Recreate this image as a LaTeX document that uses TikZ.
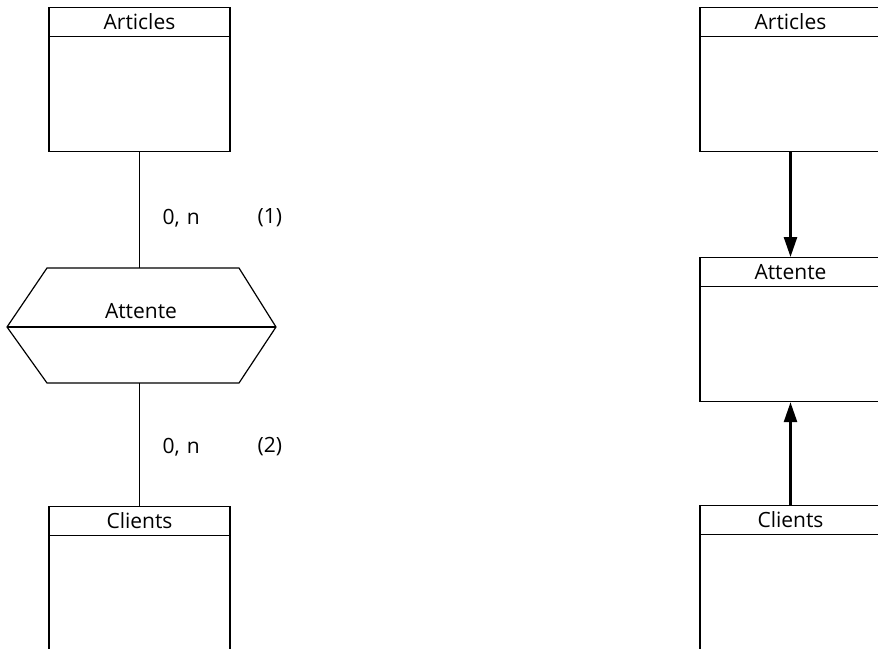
\documentclass[tikz,border=0pt]{standalone}
\usepackage{fontspec}
\setmainfont{Open Sans}
\usetikzlibrary{arrows.meta}
\begin{document}
\begin{tikzpicture}[x=1pt,y=-1pt,
  line width=1.2pt,
  font=\fontsize{21}{23}\selectfont,
  entity/.style={draw,minimum width=181pt,minimum height=#1,inner sep=0pt,anchor=north},
  header/.style={draw,minimum width=181pt,minimum height=29pt,inner sep=0pt,anchor=north},
  card/.style={anchor=west,inner sep=0pt},
  link/.style={line width=1.2pt},
  dep/.style={line width=2.6pt,-{Triangle[length=20pt,width=13pt]}}]
\useasboundingbox (0,0) rectangle (878,648);
\clip (0,0) rectangle (878,648);
% ---- left diagram ----
\node[entity=144pt] (artL) at (139.5,7) {};
\node[header] (artLh) at (artL.north) {Articles};
\draw (7,327) -- (47,268) -- (239,268) -- (276,327) -- (239,383) -- (47,383) -- cycle;
\draw (7,327) -- (276,327);
\node[anchor=base] (attL) at (141,318) {Attente};
\coordinate (hexTop) at (139.5,268);
\coordinate (hexBot) at (139.5,383);
\node[entity=200pt] (cliL) at (139.5,506) {};
\node[header] (cliLh) at (cliL.north) {Clients};
\draw[link] (artL.south) -- (hexTop);
\draw[link] (hexBot) -- (cliL.north);
\node[card] (c1) at (162,218) {0,\hspace{7pt}n};
\node[card] (n1) at (257,218) {(1)};
\node[card] (c2) at (162,447) {0,\hspace{7pt}n};
\node[card] (n2) at (257,447) {(2)};
% ---- right diagram ----
\node[entity=144pt] (artR) at (790.5,7) {};
\node[header] (artRh) at (artR.north) {Articles};
\node[entity=144pt] (attR) at (790.5,257) {};
\node[header] (attRh) at (attR.north) {Attente};
\node[entity=200pt] (cliR) at (790.5,505) {};
\node[header] (cliRh) at (cliR.north) {Clients};
\draw[dep] (artR.south) -- (attR.north);
\draw[dep] (cliR.north) -- (attR.south);
\end{tikzpicture}
\end{document}
